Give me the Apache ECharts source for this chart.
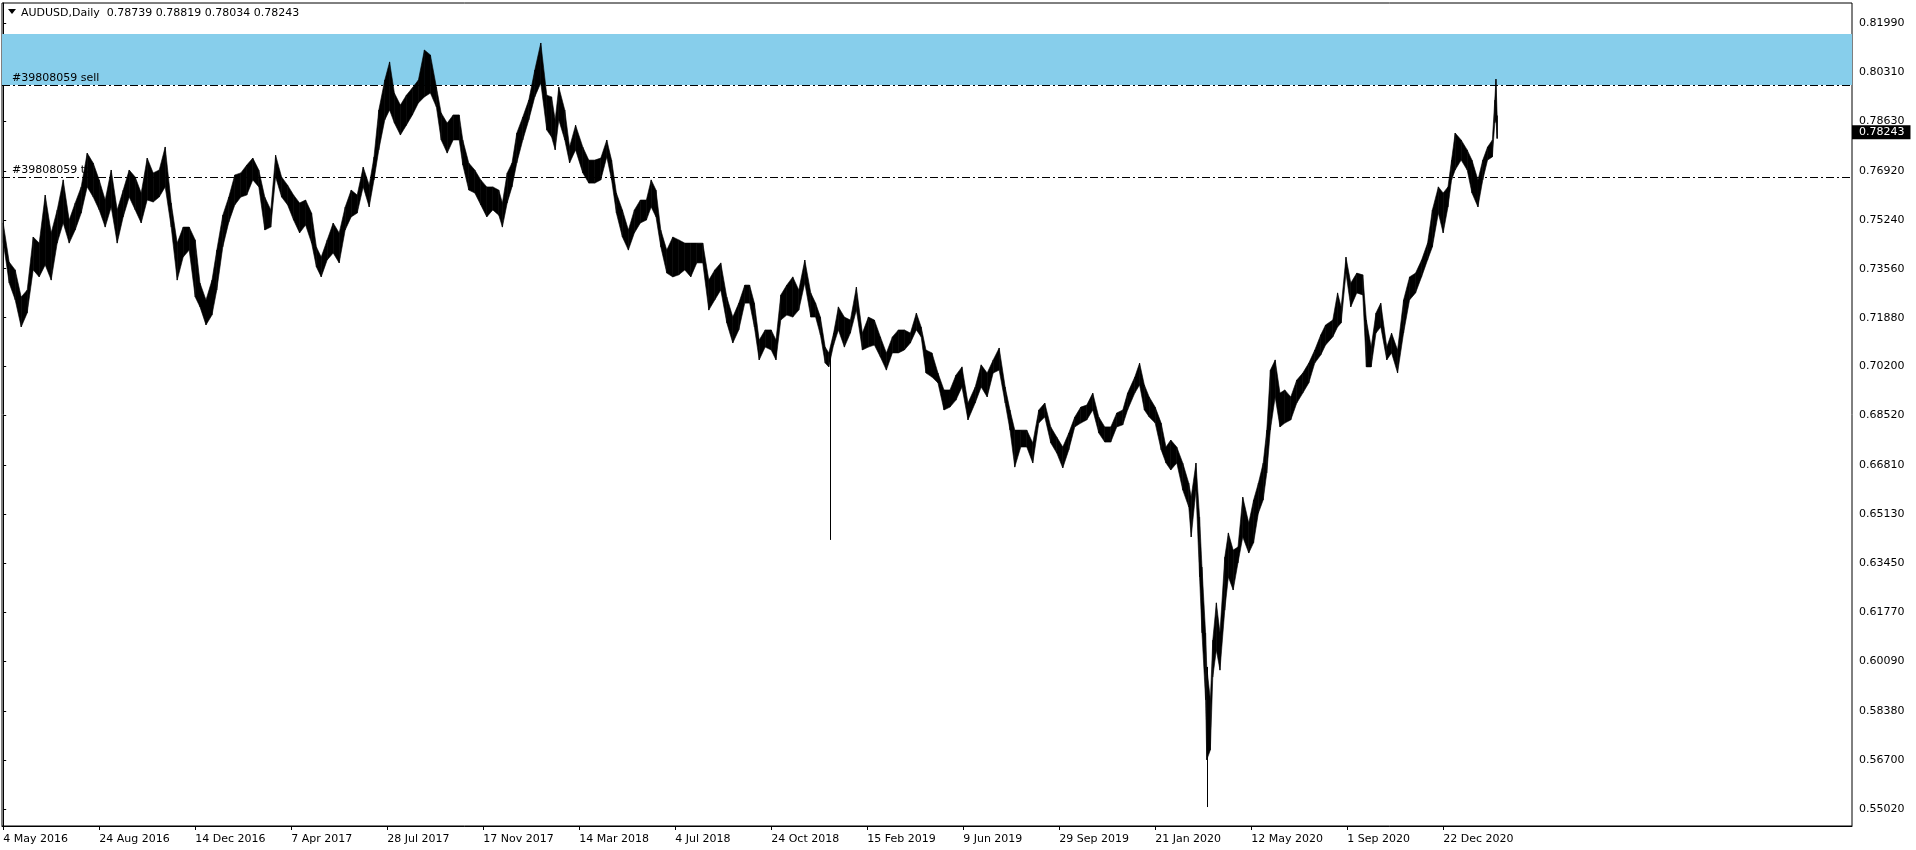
<!DOCTYPE html>
<html><head><meta charset="utf-8">
<script src="https://cdn.jsdelivr.net/npm/echarts@6/dist/echarts.min.js"></script>
<style>html,body{margin:0;padding:0;background:#fff}#c{width:1916px;height:850px}</style>
</head><body><div id="c"></div>
<script>
// ---------- data ----------
const symbolName = 'AUDUSD,Daily';
const lastOHLC = ['0.78739', '0.78819', '0.78034', '0.78243'];
const dateLabelBars = [0, 80, 160, 240, 320, 400, 480, 560, 640, 720, 800, 880, 960, 1040, 1120, 1200];
const dateLabels = ['4 May 2016', '24 Aug 2016', '14 Dec 2016', '7 Apr 2017', '28 Jul 2017', '17 Nov 2017',
  '14 Mar 2018', '4 Jul 2018', '24 Oct 2018', '15 Feb 2019', '9 Jun 2019', '29 Sep 2019',
  '21 Jan 2020', '12 May 2020', '1 Sep 2020', '22 Dec 2020'];
const priceTicks = [0.81990, 0.80310, 0.78630, 0.76920, 0.75240, 0.73560, 0.71880, 0.70200, 0.68520,
  0.66810, 0.65130, 0.63450, 0.61770, 0.60090, 0.58380, 0.56700, 0.55020];

// bar index (trading day since 4 May 2016) of each sampled point
const bars = [0,5,10,15,20,25,30,35,40,45, 50,55,60,65,70,75,80,85,90,95,
  100,105,110,115,120,125,130,135,140,145, 150,155,160,164,169,174,178,183,188,193,
  198,203,208,213,218,223,227,232,237,242, 247,252,257,261,265,270,275,280,285,290,
  295,300,305,309,313,318,322,326,331,336, 341,346,351,356,361,365,370,375,380,383,
  388,393,398,403,408,413,416,420,424,428, 433,438,443,448,453,457,460,463,468,472,
  477,483,488,493,498,503,507,511,516,521, 526,531,536,540,544,548,553,558,563,568,
  573,578,583,588,593,598,603,608,613,618, 622,626,630,635,640,644,648,653,658,663,
  668,673,677,681,685,688,692,696,701,706, 711,716,721,726,731,736,741,746,751,756,
  761,765,769,774,779,784,789,794,799,804, 810,815,820,825,830,835,839,843,848,853,
  858,863,868,873,878,883,888,893,898,903, 908,913,918,923,928,933,937,943,947,951,
  955,960,965,969,973,978,983,988,990,994, 997,999,1002,1003,1006,1008,1011,1014,1018,1021,
  1025,1029,1033,1038,1042,1046,1050,1053,1056,1060, 1064,1068,1073,1078,1083,1088,1093,1098,1102,1108,
  1112,1115,1119,1123,1128,1133,1136,1140,1144,1148, 1153,1157,1162,1167,1172,1177,1182,1187,1191,1196,
  1200,1204,1207,1210,1215,1220,1224,1229,1233,1237, 1241,1243,1244,1245];
const highs = [0.7513,0.7379,0.7352,0.7259,0.7283,0.7465,0.7444,0.7609,0.7479,0.7558,
  0.7661,0.7523,0.7582,0.7637,0.7753,0.7719,0.7661,0.7592,0.7695,0.7558,
  0.7626,0.7695,0.7671,0.7616,0.7736,0.7685,0.7695,0.7774,0.7582,0.7444,
  0.7499,0.7499,0.7455,0.7307,0.7249,0.7317,0.7420,0.7540,0.7602,0.7678,
  0.7685,0.7712,0.7736,0.7695,0.7602,0.7558,0.7746,0.7671,0.7643,0.7609,
  0.7582,0.7592,0.7547,0.7431,0.7396,0.7455,0.7513,0.7479,0.7568,0.7626,
  0.7609,0.7705,0.7643,0.7740,0.7901,0.8004,0.8066,0.7959,0.7918,0.7952,
  0.7977,0.8004,0.8107,0.8090,0.7980,0.7891,0.7856,0.7884,0.7884,0.7798,
  0.7719,0.7695,0.7661,0.7637,0.7637,0.7626,0.7582,0.7685,0.7719,0.7822,
  0.7877,0.7935,0.8038,0.8131,0.7952,0.7946,0.7867,0.7980,0.7901,0.7774,
  0.7849,0.7774,0.7729,0.7729,0.7736,0.7798,0.7729,0.7616,0.7558,0.7489,
  0.7558,0.7592,0.7592,0.7661,0.7626,0.7489,0.7420,0.7465,0.7455,0.7444,
  0.7444,0.7444,0.7444,0.7317,0.7352,0.7376,0.7259,0.7190,0.7238,0.7300,
  0.7300,0.7238,0.7111,0.7146,0.7146,0.7111,0.7266,0.7300,0.7328,0.7283,
  0.7386,0.7273,0.7238,0.7190,0.7087,0.7067,0.7135,0.7225,0.7190,0.7180,
  0.7293,0.7135,0.7190,0.7180,0.7122,0.7067,0.7122,0.7146,0.7146,0.7135,
  0.7204,0.7156,0.7077,0.7067,0.6998,0.6940,0.6940,0.6991,0.7019,0.6895,
  0.6950,0.7026,0.6998,0.7043,0.7084,0.6950,0.6871,0.6802,0.6802,0.6802,
  0.6758,0.6871,0.6895,0.6813,0.6778,0.6744,0.6792,0.6847,0.6881,0.6888,
  0.6929,0.6847,0.6813,0.6813,0.6861,0.6871,0.6929,0.6984,0.7032,0.6957,
  0.6916,0.6881,0.6826,0.6744,0.6768,0.6744,0.6689,0.6620,0.6572,0.6689,
  0.6504,0.6332,0.6106,0.5989,0.5876,0.6081,0.6209,0.6106,0.6366,0.6449,
  0.6390,0.6401,0.6572,0.6483,0.6562,0.6620,0.6689,0.6802,0.7008,0.7043,
  0.6929,0.6940,0.6916,0.6974,0.6998,0.7032,0.7077,0.7129,0.7163,0.7180,
  0.7273,0.7225,0.7396,0.7307,0.7341,0.7335,0.7180,0.7087,0.7204,0.7238,
  0.7087,0.7135,0.7077,0.7249,0.7328,0.7341,0.7386,0.7444,0.7558,0.7637,
  0.7616,0.7637,0.7729,0.7822,0.7798,0.7764,0.7729,0.7661,0.7729,0.7774,
  0.7798,0.7935,0.8007,0.7882];
const lows = [0.7448,0.7307,0.7249,0.7156,0.7204,0.7352,0.7328,0.7369,0.7317,0.7444,
  0.7513,0.7444,0.7489,0.7547,0.7637,0.7602,0.7558,0.7499,0.7568,0.7444,
  0.7534,0.7602,0.7558,0.7513,0.7592,0.7585,0.7602,0.7637,0.7499,0.7317,
  0.7396,0.7420,0.7259,0.7225,0.7163,0.7197,0.7283,0.7431,0.7516,0.7575,
  0.7602,0.7609,0.7661,0.7637,0.7489,0.7499,0.7671,0.7602,0.7575,0.7523,
  0.7479,0.7506,0.7444,0.7362,0.7328,0.7386,0.7410,0.7376,0.7489,0.7534,
  0.7547,0.7637,0.7568,0.7661,0.7764,0.7867,0.7901,0.7856,0.7815,0.7849,
  0.7884,0.7925,0.7946,0.7959,0.7911,0.7798,0.7753,0.7798,0.7798,0.7712,
  0.7626,0.7616,0.7575,0.7534,0.7558,0.7540,0.7499,0.7582,0.7637,0.7719,
  0.7798,0.7867,0.7946,0.7994,0.7832,0.7808,0.7764,0.7867,0.7798,0.7719,
  0.7764,0.7685,0.7650,0.7650,0.7661,0.7740,0.7661,0.7547,0.7465,0.7420,
  0.7479,0.7513,0.7523,0.7568,0.7534,0.7431,0.7341,0.7328,0.7335,0.7352,
  0.7328,0.7376,0.7376,0.7214,0.7249,0.7283,0.7170,0.7101,0.7146,0.7238,
  0.7238,0.7156,0.7043,0.7087,0.7077,0.7043,0.7180,0.7197,0.7190,0.7214,
  0.7307,0.7190,0.7190,0.7129,0.7032,0.7019,0.7094,0.7146,0.7087,0.7135,
  0.7214,0.7077,0.7087,0.7094,0.7053,0.7008,0.7067,0.7067,0.7077,0.7101,
  0.7146,0.7122,0.6998,0.6984,0.6964,0.6871,0.6881,0.6905,0.6950,0.6837,
  0.6895,0.6950,0.6916,0.6998,0.7008,0.6895,0.6802,0.6675,0.6744,0.6744,
  0.6689,0.6826,0.6847,0.6758,0.6723,0.6672,0.6734,0.6813,0.6826,0.6837,
  0.6871,0.6792,0.6761,0.6761,0.6813,0.6820,0.6871,0.6929,0.6957,0.6871,
  0.6847,0.6826,0.6734,0.6689,0.6665,0.6689,0.6596,0.6538,0.6435,0.6596,
  0.6298,0.6106,0.5876,0.5670,0.5704,0.5954,0.6047,0.5978,0.6184,0.6298,
  0.6253,0.6346,0.6435,0.6380,0.6415,0.6517,0.6562,0.6655,0.6802,0.6916,
  0.6813,0.6826,0.6837,0.6895,0.6929,0.6964,0.7032,0.7060,0.7094,0.7122,
  0.7156,0.7170,0.7341,0.7225,0.7273,0.7266,0.7019,0.7019,0.7135,0.7156,
  0.7043,0.7067,0.6998,0.7135,0.7249,0.7273,0.7328,0.7386,0.7431,0.7547,
  0.7479,0.7568,0.7661,0.7695,0.7729,0.7695,0.7616,0.7568,0.7661,0.7729,
  0.7740,0.7856,0.7867,0.7803];
// single long wicks (flash crash Jan 2019, March 2020 low)
const wickBars = [689, 1003];
const wickHighs = [0.7060, 0.5989];
const wickLows = [0.6425, 0.5508];

const zoneTop = 0.8162;
const zoneBottom = 0.7987;
const sellLevel = 0.7987;
const tpLevel = 0.7671;
const bidPrice = 0.78243;
const orderId = '#39808059';

// ---------- chart ----------
const chart = echarts.init(document.getElementById('c'), null, {renderer: 'canvas'});
const FONT = 'DejaVu Sans';
const bandData = bars.map((b, i) => [b, highs[i], lows[i], i]);
const wickData = wickBars.map((b, i) => [b, wickHighs[i], wickLows[i]]);
const dashDot = [8, 3, 2, 3];

chart.setOption({
  animation: false,
  backgroundColor: '#ffffff',
  grid: {left: 2, right: 64, top: 3, bottom: 24, show: true, borderColor: '#000', borderWidth: 1, backgroundColor: 'transparent'},
  xAxis: {
    type: 'value', min: -1, max: 1540.7,
    axisLine: {show: true, lineStyle: {color: '#000', width: 1}},
    axisTick: {show: true, customValues: dateLabelBars, length: 4, lineStyle: {color: '#000'}},
    axisLabel: {
      customValues: dateLabelBars, align: 'left', margin: 8, color: '#000',
      fontFamily: FONT, fontSize: 11,
      formatter: v => dateLabels[dateLabelBars.indexOf(Math.round(v))] || ''
    },
    splitLine: {show: false}
  },
  yAxis: {
    type: 'value', position: 'right', min: 0.54429, max: 0.82683,
    axisLine: {show: true, lineStyle: {color: '#000', width: 1}},
    axisTick: {show: true, customValues: priceTicks, length: 3, lineStyle: {color: '#000'}},
    axisLabel: {
      customValues: priceTicks, margin: 7, color: '#000', fontFamily: FONT, fontSize: 11,
      formatter: v => v.toFixed(5)
    },
    splitLine: {show: false}
  },
  graphic: [
    {type: 'polygon', shape: {points: [[8, 9], [16, 9], [12, 14]]}, style: {fill: '#000'}},
    {type: 'text', left: 21, top: 8, style: {text: symbolName + '  ' + lastOHLC.join(' '), fill: '#000', font: '11px "DejaVu Sans"'}}
  ],
  series: [
    {
      type: 'line', data: [], z: 1, silent: true,
      markArea: {
        silent: true,
        itemStyle: {color: '#87CEEB', opacity: 1},
        data: [[{yAxis: zoneTop}, {yAxis: zoneBottom}]]
      },
      markLine: {
        silent: true, symbol: 'none', animation: false, precision: 6,
        data: [
          {yAxis: sellLevel, lineStyle: {color: '#000', width: 1, type: dashDot},
           label: {show: true, position: 'insideStartTop', formatter: orderId + ' sell', color: '#000', fontFamily: FONT, fontSize: 11, distance: [10, 1]}},
          {yAxis: tpLevel, lineStyle: {color: '#000', width: 1, type: dashDot},
           label: {show: true, position: 'insideStartTop', formatter: orderId + ' tp', color: '#000', fontFamily: FONT, fontSize: 11, distance: [10, 1]}}
        ]
      }
    },
    {
      type: 'custom', name: 'band', z: 3, clip: true, silent: true,
      data: bandData,
      encode: {x: 0, y: [1, 2]},
      renderItem: function (params, api) {
        const i = params.dataIndex;
        if (i >= bars.length - 1) {
          const a = api.coord([bars[i], highs[i]]), b = api.coord([bars[i], lows[i]]);
          return {type: 'line', shape: {x1: a[0], y1: a[1], x2: b[0], y2: b[1]}, style: {stroke: '#000', lineWidth: 1.3}};
        }
        const p1 = api.coord([bars[i], highs[i]]);
        const p2 = api.coord([bars[i + 1], highs[i + 1]]);
        const p3 = api.coord([bars[i + 1], lows[i + 1]]);
        const p4 = api.coord([bars[i], lows[i]]);
        return {type: 'polygon', shape: {points: [p1, p2, p3, p4]}, style: {fill: '#000', stroke: '#000', lineWidth: 0.6}};
      }
    },
    {
      type: 'custom', name: 'wicks', z: 3, clip: true, silent: true,
      data: wickData,
      encode: {x: 0, y: [1, 2]},
      renderItem: function (params, api) {
        const a = api.coord([api.value(0), api.value(1)]);
        const b = api.coord([api.value(0), api.value(2)]);
        return {type: 'line', shape: {x1: Math.round(a[0]) + 0.5, y1: a[1], x2: Math.round(b[0]) + 0.5, y2: b[1]}, style: {stroke: '#000', lineWidth: 1}};
      }
    },
    {
      type: 'line', data: [], z: 10, silent: true,
      markLine: {
        silent: true, symbol: 'none', animation: false, precision: 6, z: 10,
        data: [{yAxis: bidPrice, lineStyle: {color: 'rgba(0,0,0,0)', width: 1, type: 'solid'},
          label: {show: true, position: 'end', distance: 0, formatter: bidPrice.toFixed(5),
            color: '#fff', backgroundColor: '#000', padding: [2, 6, 1, 7], fontFamily: FONT, fontSize: 11}}]
      }
    }
  ]
});
</script>
</body></html>
